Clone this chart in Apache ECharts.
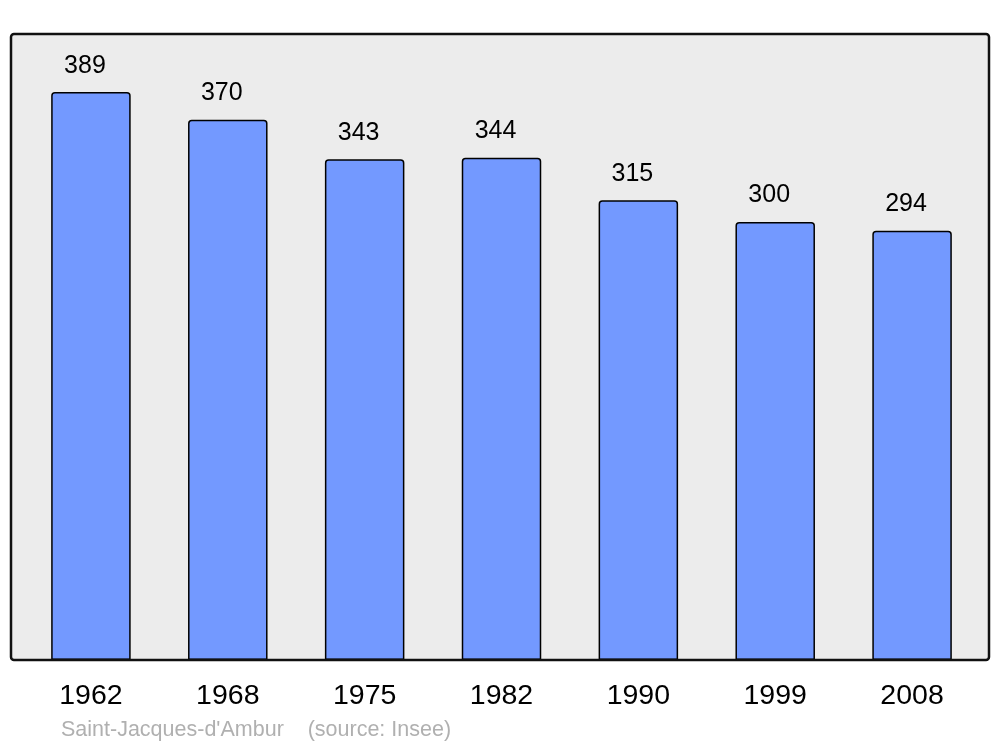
<!DOCTYPE html>
<html>
<head>
<meta charset="utf-8">
<script src="https://cdn.jsdelivr.net/npm/echarts@6/dist/echarts.min.js"></script>
<style>html,body{margin:0;padding:0;background:#fff}#c{width:1000px;height:747px}</style>
</head>
<body>
<div id="c"></div>
<script>
const years = ['1962', '1968', '1975', '1982', '1990', '1999', '2008'];
const population = [389, 370, 343, 344, 315, 300, 294];
const footerText = "Saint-Jacques-d'Ambur    (source: Insee)";

const chart = echarts.init(document.getElementById('c'), null, {renderer: 'canvas'});
chart.setOption({
  backgroundColor: '#ffffff',
  animation: false,
  textStyle: {fontFamily: 'Liberation Sans'},
  graphic: [
    {type: 'rect', z: -10, shape: {x: 11, y: 34, width: 978, height: 626, r: 3},
     style: {fill: '#ececec', stroke: null}},
    {type: 'rect', z: 100, shape: {x: 11, y: 34, width: 978, height: 626, r: 3},
     style: {fill: null, stroke: '#111111', lineWidth: 2.5}},
    {type: 'text', left: 61, top: 719, z: 100,
     style: {text: footerText, fill: '#b0b0b0', font: '21.5px "Liberation Sans"'}}
  ],
  grid: {left: 22.5, right: 19.5, top: 33, bottom: 87, containLabel: false},
  xAxis: {
    type: 'category', data: years, boundaryGap: true,
    axisLine: {show: false}, axisTick: {show: false},
    axisLabel: {color: '#000', fontSize: 28.5, margin: 22, fontFamily: 'Liberation Sans'}
  },
  yAxis: {
    type: 'value', min: 0, max: 429.5,
    show: false, splitLine: {show: false}
  },
  series: [{
    type: 'bar', data: population, barWidth: 79.5,
    itemStyle: {color: '#7399ff', borderColor: '#000', borderWidth: 1.5, borderRadius: [3, 3, 0, 0]},
    label: {show: true, position: 'top', distance: 14, offset: [-6, 0],
            color: '#000', fontSize: 25, fontFamily: 'Liberation Sans'}
  }]
});
</script>
</body>
</html>
